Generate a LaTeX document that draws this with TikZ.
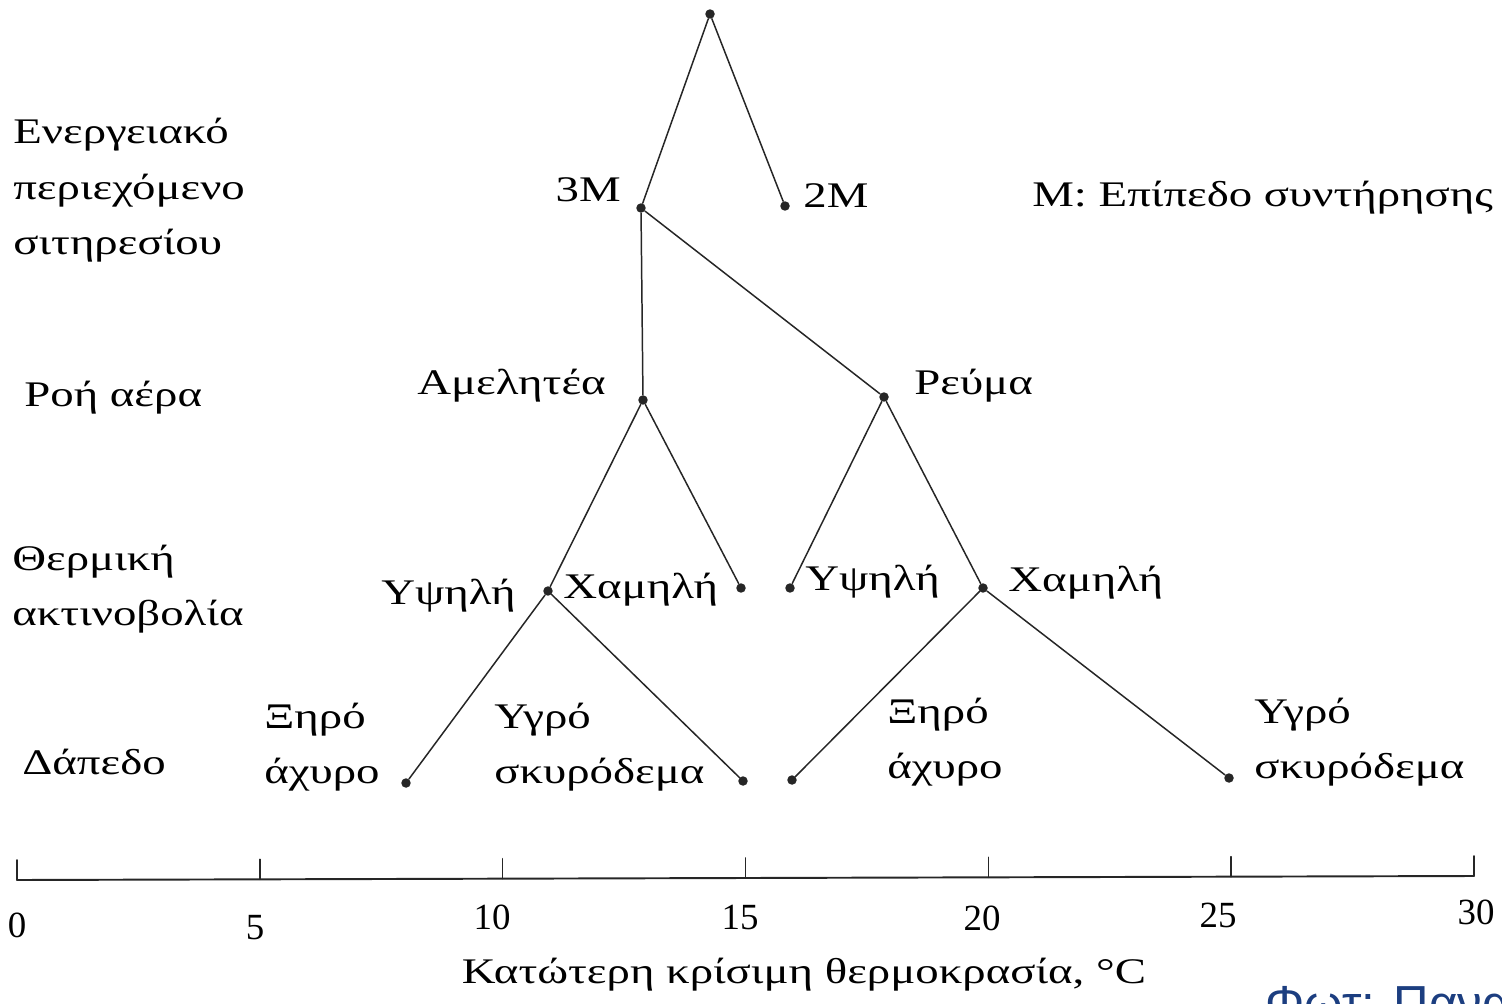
\documentclass[tikz,border=0pt]{standalone}
\usepackage{fontspec}
\setmainfont{Liberation Serif}[FakeStretch=1.3]
\newfontfamily\numfont{Liberation Serif}
\newfontfamily\creditfont{Liberation Sans}
\usetikzlibrary{calc}
\definecolor{creditblue}{RGB}{28,62,128}

\tikzset{
  leaf/.style={circle,fill=black!85,inner sep=0pt,minimum size=5.4pt},
  lbl/.style={inner sep=0pt,font=\fontsize{20.5}{31.5}\selectfont},
  numlbl/.style={inner sep=0pt,font=\numfont\fontsize{21}{25}\selectfont},
  branch/.style={line width=0.85pt,black!85},
}

\begin{document}
\begin{tikzpicture}[x=0.02cm,y=-0.02cm,line cap=round]
        \useasboundingbox (0,0) rectangle (1502,1004);

        % puntos del arbol
        \node[leaf] (top)   at (710,14) {};
        \node[leaf] (m3)    at (641,208) {};
        \node[leaf] (m2)    at (785,206) {};
        \node[leaf] (amel)  at (643,400) {};
        \node[leaf] (reuma) at (884,397) {};
        \node[leaf] (hl)    at (548,591) {};
        \node[leaf] (ll)    at (741,588) {};
        \node[leaf] (hr)    at (790,588) {};
        \node[leaf] (lr)    at (983,588) {};
        \node[leaf] (f1)    at (406,783) {};
        \node[leaf] (f2)    at (743,781) {};
        \node[leaf] (f3)    at (792,780) {};
        \node[leaf] (f4)    at (1229,778) {};

        \draw[branch] (top) -- (m3);
        \draw[branch] (top) -- (m2);
        \draw[branch] (m3) -- (amel);
        \draw[branch] (m3) -- (reuma);
        \draw[branch] (amel) -- (hl);
        \draw[branch] (amel) -- (ll);
        \draw[branch] (reuma) -- (hr);
        \draw[branch] (reuma) -- (lr);
        \draw[branch] (hl) -- (f1);
        \draw[branch] (hl) -- (f2);
        \draw[branch] (lr) -- (f3);
        \draw[branch] (lr) -- (f4);

        % niveles
        \node[lbl,anchor=west] (energy) at (13,188){\begin{tabular}{@{}l@{}}Ενεργειακό\\περιεχόμενο\\σιτηρεσίου\end{tabular}};
        \node[lbl,anchor=west] (air) at (24,398){Ροή αέρα};
        \node[lbl,anchor=west] (rad) at (12,587){\begin{tabular}{@{}l@{}}Θερμική\\ακτινοβολία\end{tabular}};
        \node[lbl,anchor=west] (floor) at (22,762){Δάπεδο};

        % etiquetas de ramas
        \node[lbl,anchor=east] (t3m) at (621,190){3M};
        \node[lbl,anchor=west] (t2m) at (803,196){2M};
        \node[lbl,anchor=west] (legend) at (1032,198){M: Επίπεδο συντήρησης};
        \node[lbl,anchor=east] (tamel) at (606,386){Αμελητέα};
        \node[lbl,anchor=west] (treuma) at (914,386){Ρεύμα};
        \node[lbl,anchor=east] (thl) at (516,596){Υψηλή};
        \node[lbl,anchor=west] (tll) at (563,590){Χαμηλή};
        \node[lbl,anchor=west] (thr) at (805,582){Υψηλή};
        \node[lbl,anchor=west] (tlr) at (1008,583){Χαμηλή};
        \node[lbl,anchor=west] (tf1) at (264,745){\begin{tabular}{@{}l@{}}Ξηρό\\άχυρο\end{tabular}};
        \node[lbl,anchor=west] (tf2) at (494,745){\begin{tabular}{@{}l@{}}Υγρό\\σκυρόδεμα\end{tabular}};
        \node[lbl,anchor=west] (tf3) at (887,740){\begin{tabular}{@{}l@{}}Ξηρό\\άχυρο\end{tabular}};
        \node[lbl,anchor=west] (tf4) at (1254,740){\begin{tabular}{@{}l@{}}Υγρό\\σκυρόδεμα\end{tabular}};

        % eje de temperatura
        \coordinate (axl) at (17,880);
        \coordinate (axr) at (1474,876);
        \draw[line width=1.1pt,black!85] (axl) -- (axr);
        \foreach \t in {0,5,...,30}
          \draw[line width=0.9pt,black!85] ($(axl)!\t/30!(axr)$) -- ++(0,-20);%
        \node[numlbl] (n0) at (17,925){0};
        \node[numlbl] (n5) at (255,928){5};
        \node[numlbl] (n10) at (492,917){10};
        \node[numlbl] (n15) at (740,917){15};
        \node[numlbl] (n20) at (982,918){20};
        \node[numlbl] (n25) at (1218,915){25};
        \node[numlbl] (n30) at (1476,912){30};
        \node[lbl] (xlabel) at (804,975){Κατώτερη κρίσιμη θερμοκρασία, °C};

        \node[anchor=base west,inner sep=0pt,text=creditblue,font=\creditfont\fontsize{28}{32}\selectfont] (credit) at (1265,1020){Φωτ: Παναγ};
\end{tikzpicture}
\end{document}
